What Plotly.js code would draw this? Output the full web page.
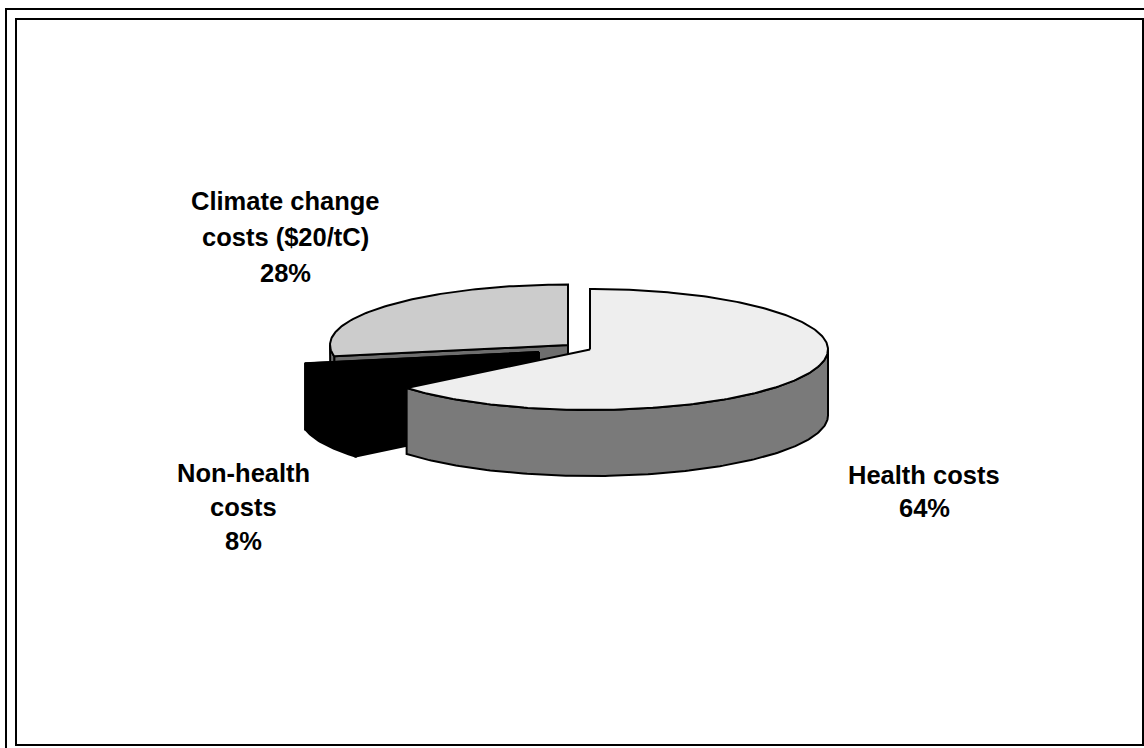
<!DOCTYPE html>
<html>
<head>
<meta charset="utf-8">
<script src="https://cdn.plot.ly/plotly-3.0.1.min.js"></script>
<style>html,body{margin:0;padding:0;background:#fff}#chart{width:1144px;height:748px}</style>
</head>
<body>
<div id="chart"></div>
<script>
// Shares of external costs, in percent, clockwise from twelve o'clock
const sliceNames = ['Health costs', 'Non-health costs', 'Climate change costs ($20/tC)'];
const sliceShares = [64, 8, 28];
const topColors = ['#eeeeee', '#000000', '#cccccc'];
const sideColors = ['#7a7a7a', '#000000', '#6e6e6e'];

// Label text, one array per slice, drawn line by line
const labelLines = [['Health costs'], ['Non-health', 'costs'], ['Climate change', 'costs ($20/tC)']];

// Pie space: unit disc seen in perspective; the axes map it onto the page
const CX = 590, CY = 349.5, RX = 238, RY = 60.5;
const DEPTH = 66 / RY;
const xRange = [(0 - CX) / RX, (1144 - CX) / RX];
const yRange = [(CY - 748) / RY, CY / RY];

// Explosion offsets of each slice in pie units
const offsets = [[0, 0], [-51 / RX, -2.5 / RY], [-22 / RX, 4.5 / RY]];

// Label anchors on the page (centre x, first-line y) and line spacing per label
const labelAnchors = [[924, 475], [243, 473], [285, 201]];
const lineSteps = [33, 34, 36];

function arc(a0, a1, dx, dy, drop) {
  const xs = [], ys = [];
  const n = Math.max(2, Math.ceil(Math.abs(a1 - a0) * 60));
  for (let i = 0; i <= n; i++) {
    const t = a0 + (a1 - a0) * i / n;
    xs.push(dx + Math.sin(t));
    ys.push(dy + Math.cos(t) - drop);
  }
  return [xs, ys];
}

function poly(xs, ys, fill) {
  return {
    type: 'scatter', mode: 'lines', x: xs, y: ys, fill: 'toself', fillcolor: fill,
    line: {color: '#000000', width: 2, shape: 'linear'}, hoverinfo: 'skip', showlegend: false
  };
}

// Flat cut face between the hub and the rim at angle a
function cutFace(i, a) {
  const [dx, dy] = offsets[i];
  const rx = dx + Math.sin(a), ry = dy + Math.cos(a);
  return poly([dx, rx, rx, dx, dx], [dy, ry, ry - DEPTH, dy - DEPTH, dy], sideColors[i]);
}

function slice(i, a0, a1) {
  const [dx, dy] = offsets[i];
  const out = [];
  if (i !== 0) {
    out.push(cutFace(i, a1), cutFace(i, a0));
  }
  // outer wall: only the part of the rim facing the viewer
  const wallStart = Math.max(a0, Math.PI / 2);
  const wallEnd = Math.min(a1, Math.PI * 1.5);
  if (wallEnd > wallStart) {
    const [tx, ty] = arc(wallStart, wallEnd, dx, dy, 0);
    const [bx, by] = arc(wallEnd, wallStart, dx, dy, DEPTH);
    out.push(poly(tx.concat(bx, [tx[0]]), ty.concat(by, [ty[0]]), sideColors[i]));
  }
  // top surface
  const [ax, ay] = arc(a0, a1, dx, dy, 0);
  out.push(poly([dx].concat(ax, [dx]), [dy].concat(ay, [dy]), topColors[i]));
  return out;
}

// Angles accumulate from twelve o'clock
const total = sliceShares.reduce((s, v) => s + v, 0);
const bounds = [];
let acc = 0;
sliceShares.forEach(v => { bounds.push([acc / total * 2 * Math.PI, (acc + v) / total * 2 * Math.PI]); acc += v; });

// Back slices first so the large front slice sits on top
const traces = [];
[2, 1, 0].forEach(i => traces.push(...slice(i, bounds[i][0], bounds[i][1])));

// Labels: name lines followed by the percentage line
const annotations = [];
labelLines.forEach((lines, i) => {
  const [px, py] = labelAnchors[i];
  lines.concat([sliceShares[i] + '%']).forEach((text, k) => {
    annotations.push({
      xref: 'x', yref: 'y', x: (px - CX) / RX, y: (CY - (py + k * lineSteps[i])) / RY,
      text: '<b>' + text + '</b>', showarrow: false, xanchor: 'center', yanchor: 'middle',
      font: {family: 'Liberation Sans, Arial, sans-serif', size: 25.5, color: '#000000'}
    });
  });
});

// Double frame around the chart area
const frameLine = {color: '#000000', width: 2};
const rect = (x0, y0, x1, y1) => ({type: 'rect', xref: 'paper', yref: 'paper',
  x0: x0 / 1144, x1: x1 / 1144, y0: 1 - y0 / 748, y1: 1 - y1 / 748, line: frameLine, layer: 'below'});

const layout = {
  width: 1144, height: 748,
  margin: {l: 0, r: 0, t: 0, b: 0},
  paper_bgcolor: '#ffffff', plot_bgcolor: '#ffffff',
  showlegend: false,
  xaxis: {range: xRange, visible: false, fixedrange: true},
  yaxis: {range: yRange, visible: false, fixedrange: true},
  shapes: [rect(6, 9, 1160, 770), rect(16, 19, 1143, 745)],
  annotations: annotations
};

Plotly.newPlot('chart', traces, layout, {displayModeBar: false, staticPlot: true});
</script>
</body>
</html>
